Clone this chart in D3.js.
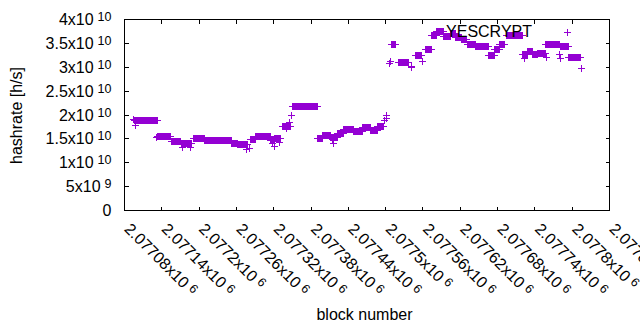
<!DOCTYPE html>
<html>
<head>
<meta charset="utf-8">
<script src="https://cdn.jsdelivr.net/npm/d3@7"></script>
<style>
  body { margin: 0; background: #fff; }
  svg { display: block; font-family: "Liberation Sans", Arial, sans-serif; }
</style>
</head>
<body>
<svg id="drawing_region"></svg>
<script>
// hashrate held constant over runs of blocks: [from, to] -> rate
const runFrom = [2077096, 2077133, 2077154, 2077171, 2077190, 2077208, 2077251, 2077261,
                 2077282, 2077290, 2077314, 2077321, 2077334, 2077349, 2077390, 2077397,
                 2077410, 2077421, 2077432, 2077448, 2077462, 2077475, 2077486,
                 2077509, 2077520, 2077547, 2077563, 2077573, 2077581, 2077592, 2077603,
                 2077611, 2077621, 2077631, 2077643, 2077664, 2077675, 2077683, 2077694,
                 2077720, 2077727, 2077736, 2077743, 2077757, 2077781, 2077794];
const runTo   = [2077132, 2077153, 2077169, 2077187, 2077208, 2077251, 2077261, 2077277,
                 2077290, 2077314, 2077321, 2077330, 2077346, 2077389, 2077397, 2077410,
                 2077421, 2077432, 2077448, 2077462, 2077475, 2077486, 2077496,
                 2077515, 2077536, 2077557, 2077573, 2077581, 2077592, 2077603, 2077611,
                 2077621, 2077630, 2077643, 2077664, 2077675, 2077683, 2077691, 2077720,
                 2077727, 2077736, 2077743, 2077757, 2077779, 2077794, 2077812];
const runRate = [1.89e10, 1.56e10, 1.46e10, 1.41e10, 1.52e10, 1.48e10, 1.42e10, 1.40e10,
                 1.50e10, 1.57e10, 1.47e10, 1.52e10, 1.78e10, 2.18e10, 1.52e10, 1.585e10,
                 1.54e10, 1.62e10, 1.71e10, 1.66e10, 1.745e10, 1.69e10, 1.78e10,
                 3.48e10, 3.12e10, 3.25e10, 3.39e10, 3.685e10, 3.755e10, 3.66e10, 3.72e10,
                 3.63e10, 3.595e10, 3.49e10, 3.455e10, 3.26e10, 3.39e10, 3.49e10, 3.68e10,
                 3.27e10, 3.34e10, 3.27e10, 3.30e10, 3.48e10, 3.455e10, 3.225e10];

// single blocks off the runs
const soloBlock = [2077094, 2077097, 2077130, 2077172, 2077185, 2077276, 2077277, 2077280,
                   2077317, 2077320, 2077328, 2077339, 2077344, 2077348, 2077414, 2077416,
                   2077498, 2077500, 2077501, 2077505, 2077507, 2077540, 2077541, 2077559,
                   2077722, 2077758, 2077779, 2077781, 2077814];
const soloRate  = [1.92e10, 1.80e10, 1.54e10, 1.34e10, 1.34e10, 1.28e10, 1.40e10, 1.31e10,
                   1.42e10, 1.36e10, 1.43e10, 1.72e10, 1.85e10, 2.00e10, 1.50e10, 1.42e10,
                   1.885e10, 1.94e10, 1.99e10, 3.085e10, 3.13e10, 3.02e10, 3.00e10, 3.13e10,
                   3.20e10, 3.22e10, 3.27e10, 3.20e10, 2.99e10];

const xTicks = [2077080, 2077140, 2077200, 2077260, 2077320, 2077380, 2077440,
                2077500, 2077560, 2077620, 2077680, 2077740, 2077800, 2077860];
const yTicks = [0, 5e9, 1e10, 1.5e10, 2e10, 2.5e10, 3e10, 3.5e10, 4e10];

const seriesName = "YESCRYPT";
const color = "#9400d3";

const width = 640, height = 330;
const margin = {top: 19.5, right: 30.5, bottom: 119.5, left: 124.5};

const svg = d3.select('#drawing_region')
    .attr('width', width)
    .attr('height', height);

const xscale = d3.scaleLinear()
    .domain([xTicks[0], xTicks[xTicks.length - 1]])
    .range([margin.left, width - margin.right]);

const yscale = d3.scaleLinear()
    .domain([0, 4e10])
    .range([height - margin.bottom, margin.top]);

// gnuplot-like "mantissa x10^exp"
function splitNum(v) {
    if (v === 0) return ["0", ""];
    const e = Math.floor(Math.log10(Math.abs(v)) + 1e-9);
    const m = parseFloat((v / Math.pow(10, e)).toPrecision(6));
    return [m + "x10", String(e)];
}

const x0 = xscale.range()[0], x1 = xscale.range()[1];
const y0 = yscale.range()[0], y1 = yscale.range()[1];
const tick = 4;

// tick marks (mirrored on all sides)
const ticks = svg.append('g')
    .attr('stroke', 'black')
    .attr('stroke-width', 1)
    .attr('shape-rendering', 'crispEdges');

yTicks.forEach(v => {
    const y = Math.round(yscale(v) - 0.5) + 0.5;
    ticks.append('line').attr('x1', x0).attr('x2', x0 + tick).attr('y1', y).attr('y2', y);
    ticks.append('line').attr('x1', x1).attr('x2', x1 - tick).attr('y1', y).attr('y2', y);
});
xTicks.forEach(v => {
    const x = Math.round(xscale(v) - 0.5) + 0.5;
    ticks.append('line').attr('x1', x).attr('x2', x).attr('y1', y0).attr('y2', y0 - tick);
    ticks.append('line').attr('x1', x).attr('x2', x).attr('y1', y1).attr('y2', y1 + tick);
});

// y tick labels
const ylab = svg.append('g').attr('font-size', 16).attr('fill', 'black');
yTicks.forEach(v => {
    const [m, e] = splitNum(v);
    const t = ylab.append('text')
        .attr('x', 111.5)
        .attr('y', yscale(v) + 5.5)
        .attr('text-anchor', 'end')
        .text(m);
    if (e) {
        t.append('tspan').attr('dx', 4).attr('dy', -4).attr('font-size', 12.5).text(e);
    }
});

// x tick labels, rotated
const xlab = svg.append('g').attr('font-size', 16).attr('fill', 'black');
xTicks.forEach(v => {
    const [m, e] = splitNum(v);
    const t = xlab.append('text')
        .attr('transform', `translate(${xscale(v) - 1}, 230) rotate(45)`)
        .attr('text-anchor', 'start')
        .text(m);
    t.append('tspan').attr('dx', 4).attr('dy', -4).attr('font-size', 12.5).text(e);
});

// axis titles
svg.append('text')
    .attr('x', 364.5).attr('y', 320)
    .attr('text-anchor', 'middle')
    .attr('font-size', 16)
    .text('block number');

svg.append('text')
    .attr('transform', 'translate(21.5, 115.5) rotate(-90)')
    .attr('text-anchor', 'middle')
    .attr('font-size', 16)
    .text('hashrate [h/s]');

// data points
const points = [];
runFrom.forEach((f, i) => {
    for (let b = f; b <= runTo[i]; b++) points.push({b: b, v: runRate[i]});
});
soloBlock.forEach((b, i) => points.push({b: b, v: soloRate[i]}));

const r = 3.5;
function plus(cx, cy) {
    const x = Math.round(cx) + 0.5, y = Math.round(cy) + 0.5;
    return `M${x - r},${y}H${x + r}M${x},${y - r}V${y + r}`;
}

svg.append('g')
    .attr('stroke', color)
    .attr('stroke-width', 1.2)
    .attr('fill', 'none')
    .attr('shape-rendering', 'crispEdges')
    .selectAll('path')
    .data(points)
    .join('path')
    .attr('d', d => plus(xscale(d.b), yscale(d.v)));

// key
svg.append('text')
    .attr('x', 532).attr('y', 36.5)
    .attr('text-anchor', 'end')
    .attr('font-size', 16)
    .text(seriesName);

svg.append('path')
    .attr('d', plus(567, 32))
    .attr('stroke', color)
    .attr('stroke-width', 1.2)
    .attr('shape-rendering', 'crispEdges');

// border
svg.append('rect')
    .attr('x', x0).attr('y', y1)
    .attr('width', x1 - x0).attr('height', y0 - y1)
    .attr('fill', 'none')
    .attr('stroke', 'black')
    .attr('stroke-width', 1)
    .attr('shape-rendering', 'crispEdges');
</script>
</body>
</html>
